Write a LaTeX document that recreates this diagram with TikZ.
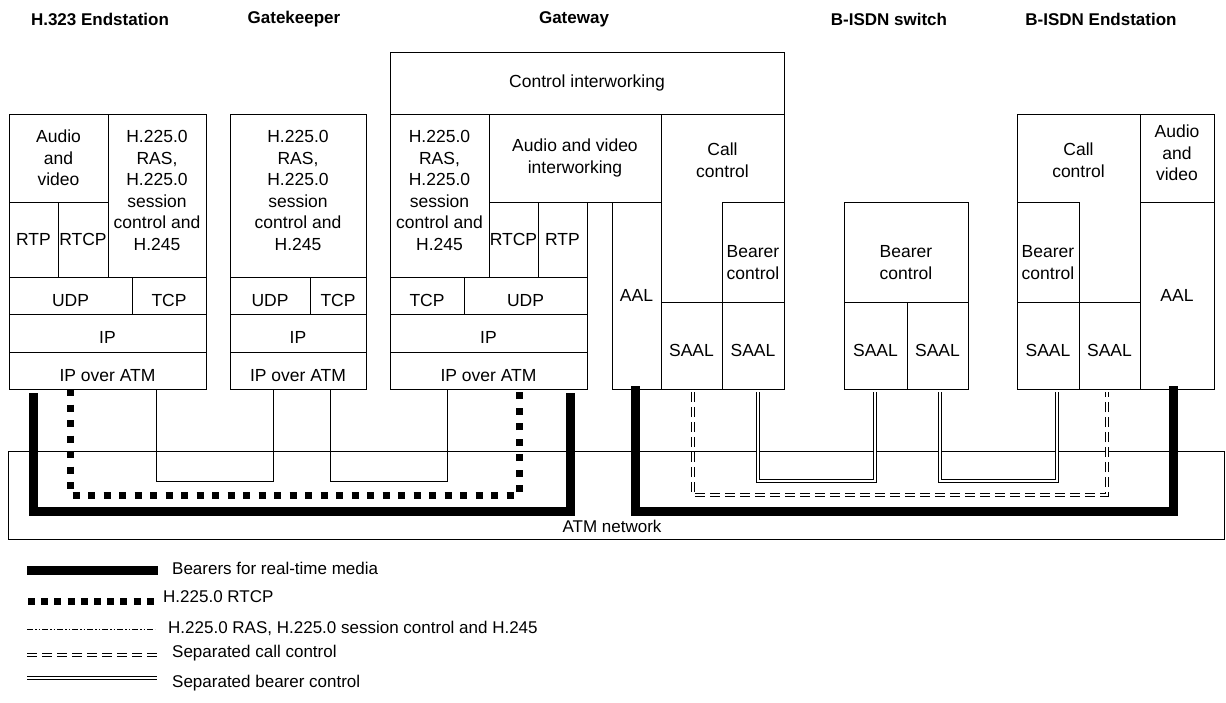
\documentclass[tikz,border=0pt]{standalone}
\usepackage{fontspec}
\setmainfont{Liberation Sans}
\usetikzlibrary{positioning}
\begin{document}
\begin{tikzpicture}[x=1pt, y=-1pt, line join=miter,
      b/.style={draw, line width=0.9pt, inner sep=0pt, outer sep=0pt, align=center, font=\fontsize{17.5}{21.5}\selectfont},
      sz/.style 2 args={minimum width=#1, minimum height=#2},
      lo/.style={text height=21.5pt, text depth=0pt},
      bclo/.style={text height=54pt, text depth=0pt},
      hi/.style={text depth=10pt},
      hd/.style={font=\fontsize{17}{20}\selectfont\bfseries},
      lg/.style={anchor=west, inner sep=0pt, font=\fontsize{17}{20}\selectfont},
      bearer/.style={line width=9pt},
      rtcp/.style={line width=7pt, dash pattern=on 7pt off 8.5pt},
      ras/.style={line width=0.8pt},
      callc/.style={double, double distance=2.5pt, line width=0.9pt, dash pattern=on 10pt off 5pt},
      bearc/.style={double, double distance=2.5pt, line width=0.8pt}]
  \useasboundingbox (0,0) rectangle (1226,702);
  \node[hd] (h1) at (100,19) {H.323 Endstation};
  \node[hd] (h2) at (294,19) {Gatekeeper};
  \node[hd] (h3) at (574,19) {Gateway};
  \node[hd] (h4) at (889,19) {B-ISDN switch};
  \node[hd] (h5) at (1101,19) {B-ISDN Endstation};
  % H.323 endstation
  \node[b, sz={99pt}{88pt}, anchor=north west] (epav) at (9,114) {Audio\\and\\video};
  \node[b, sz={49pt}{75pt}, below right=0pt of epav.south west] (eprtp) {RTP};
  \node[b, sz={50pt}{75pt}, right=0pt of eprtp] (eprtcp) {RTCP};
  \node[b, hi, sz={98pt}{163pt}, below right=0pt of epav.north east] (epras) {H.225.0\\RAS,\\H.225.0\\session\\control and\\H.245};
  \node[b, lo, sz={123pt}{37pt}, below right=0pt of eprtp.south west] (epudp) {UDP};
  \node[b, lo, sz={74pt}{37pt}, right=0pt of epudp] (eptcp) {TCP};
  \node[b, lo, sz={197pt}{38pt}, below right=0pt of epudp.south west] (epip) {IP};
  \node[b, lo, sz={197pt}{37pt}, below=0pt of epip] (epatm) {IP over ATM};
  % gatekeeper
  \node[b, hi, sz={136pt}{163pt}, anchor=north west] (gkras) at (230,114) {H.225.0\\RAS,\\H.225.0\\session\\control and\\H.245};
  \node[b, lo, sz={80pt}{37pt}, below right=0pt of gkras.south west] (gkudp) {UDP};
  \node[b, lo, sz={56pt}{37pt}, right=0pt of gkudp] (gktcp) {TCP};
  \node[b, lo, sz={136pt}{38pt}, below right=0pt of gkudp.south west] (gkip) {IP};
  \node[b, lo, sz={136pt}{37pt}, below=0pt of gkip] (gkatm) {IP over ATM};
  % gateway
  \node[b, sz={394pt}{62pt}, anchor=north west] (gwci) at (390,52) {Control interworking};
  \node[b, hi, sz={99pt}{163pt}, below right=0pt of gwci.south west] (gwras) {H.225.0\\RAS,\\H.225.0\\session\\control and\\H.245};
  \node[b, sz={172pt}{88pt}, below right=0pt of gwras.north east] (gwav) {Audio and video\\interworking};
  \node[b, sz={49pt}{75pt}, below right=0pt of gwav.south west] (gwrtcp) {RTCP};
  \node[b, sz={49pt}{75pt}, right=0pt of gwrtcp] (gwrtp) {RTP};
  \node[b, lo, sz={74pt}{37pt}, below right=0pt of gwras.south west] (gwtcp) {TCP};
  \node[b, lo, sz={123pt}{37pt}, right=0pt of gwtcp] (gwudp) {UDP};
  \node[b, lo, sz={197pt}{38pt}, below right=0pt of gwtcp.south west] (gwip) {IP};
  \node[b, lo, sz={197pt}{37pt}, below=0pt of gwip] (gwatm) {IP over ATM};
  \node[b, sz={49pt}{187pt}, below left=0pt of gwav.south east] (gwaal) {AAL};
  \node[b, sz={123pt}{188pt}, below left=0pt of gwci.south east] (gwcc) {};
  \node[b, draw=none] (gwcctxt) at ([yshift=-46pt]gwcc.north) {Call\\control};
  \node[b, bclo, sz={62pt}{100pt}, above left=0pt of gwcc.south east] (gwbc) {Bearer\\control};
  \node[b, lo, sz={61pt}{87pt}, below right=0pt of gwcc.south west] (gwsaal1) {SAAL};
  \node[b, lo, sz={62pt}{87pt}, right=0pt of gwsaal1] (gwsaal2) {SAAL};
  % B-ISDN switch
  \node[b, bclo, sz={124pt}{100pt}, anchor=north west] (swbc) at (844,202) {Bearer\\control};
  \node[b, lo, sz={63pt}{87pt}, below right=0pt of swbc.south west] (swsaal1) {SAAL};
  \node[b, lo, sz={61pt}{87pt}, right=0pt of swsaal1] (swsaal2) {SAAL};
  % B-ISDN endstation
  \node[b, sz={123pt}{188pt}, anchor=north west] (becc) at (1017,114) {};
  \node[b, draw=none] (becctxt) at ([yshift=-46pt]becc.north) {Call\\control};
  \node[b, bclo, sz={62pt}{100pt}, above right=0pt of becc.south west] (bebc) {Bearer\\control};
  \node[b, lo, sz={62pt}{87pt}, below right=0pt of becc.south west] (besaal1) {SAAL};
  \node[b, lo, sz={61pt}{87pt}, right=0pt of besaal1] (besaal2) {SAAL};
  \node[b, hi, sz={74pt}{88pt}, below right=0pt of becc.north east] (beav) {Audio\\and\\video};
  \node[b, sz={74pt}{187pt}, below right=0pt of beav.south west] (beaal) {AAL};
  % ATM network
  \node[draw, line width=0.8pt, sz={1216pt}{88pt}, inner sep=0pt, anchor=north west] (atm) at (8,451) {};
  \node[lg, anchor=center] (atmtxt) at (612,526) {ATM network};
  % connections
  \draw[ras] ([xshift=48.5pt]epatm.south) -- ++(0,92) -| ([xshift=-25pt]gkatm.south);
  \draw[ras] ([xshift=32pt]gkatm.south) -- ++(0,92) -| ([xshift=-41.5pt]gwatm.south);
  \draw[rtcp] ([xshift=-37.5pt]epatm.south) -- ++(0,106) -| ([xshift=30.5pt]gwatm.south);
  \draw[bearer] ([xshift=-74.5pt, yshift=-4pt]epatm.south) -- ++(0,118) -| ([xshift=81.5pt, yshift=-4pt]gwatm.south);
  \draw[bearer] ([xshift=-1.5pt, yshift=3pt]gwaal.south) -- ++(0,125) -| ([xshift=-4pt, yshift=3pt]beaal.south);
  \draw[callc] ([xshift=1.5pt, yshift=-3pt]gwsaal1.south) -- ++(0,103) -| ([xshift=-2.5pt, yshift=-3pt]besaal2.south);
  \draw[bearc] ([xshift=5pt, yshift=-3pt]gwsaal2.south) -- ++(0,89) -| ([xshift=-0.5pt, yshift=-3pt]swsaal1.south);
  \draw[bearc] ([xshift=2.5pt, yshift=-3pt]swsaal2.south) -- ++(0,89) -| ([xshift=9pt, yshift=-3pt]besaal1.south);
  % legend
  \node[lg] (l1) at (172,568) {Bearers for real-time media};
  \node[lg] (l2) at (163,597) {H.225.0 RTCP};
  \node[lg] (l3) at (168,628) {H.225.0 RAS, H.225.0 session control and H.245};
  \node[lg] (l4) at (172,653) {Separated call control};
  \node[lg] (l5) at (172,683) {Separated bearer control};
  \draw[bearer] ([xshift=-145pt, yshift=-2pt]l1.west) -- ++(131,0);
  \draw[rtcp, dash pattern=on 7pt off 6.2pt] ([xshift=-135pt, yshift=-4pt]l2.west) -- ++(127,0);
  \draw[ras, dash pattern=on 6pt off 2pt on 1.5pt off 2pt on 1.5pt off 2pt] ([xshift=-141pt, yshift=-1pt]l3.west) -- ++(128,0);
  \draw[callc] ([xshift=-145pt, yshift=-2pt]l4.west) -- ++(130,0);
  \draw[bearc] ([xshift=-145pt, yshift=5pt]l5.west) -- ++(130,0);
\end{tikzpicture}
\end{document}
